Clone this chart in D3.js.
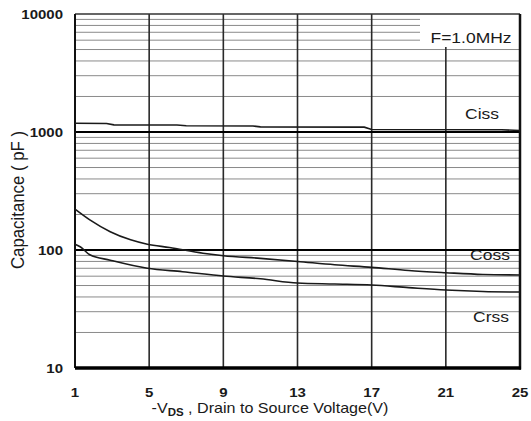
<!DOCTYPE html>
<html>
<head>
<meta charset="utf-8">
<script src="https://d3js.org/d3.v7.min.js"></script>
<style>
  body { margin: 0; background: #fff; }
  text { font-family: Arial, "Liberation Sans", sans-serif; fill: #1a1a1a; }
</style>
</head>
<body>
<svg id="chart" width="531" height="421"></svg>
<script>
// values
const xTicks = [1, 5, 9, 13, 17, 21, 25];
const yTicks = [10, 100, 1000, 10000];

const cissV = [1, 2.7, 3.1, 6.5, 7, 10.6, 11, 16.6, 17, 24, 25];
const ciss  = [1185, 1180, 1150, 1145, 1130, 1125, 1105, 1100, 1050, 1045, 1030];

const cossV = [1, 1.8, 2.9, 4, 4.9, 6.1, 7.9, 9, 11, 13, 15, 17, 19, 21, 23, 25];
const coss  = [222, 180, 143, 122, 112, 105, 94, 89.5, 85, 80, 75, 71.3, 67, 64.2, 62, 61.4];

const crssV = [1, 1.3, 1.8, 2.9, 4.9, 6.8, 9, 11, 13, 15, 17, 19, 21, 23, 25];
const crss  = [112, 106, 91, 82, 70, 65.5, 60.2, 57, 52.5, 51.5, 50.5, 48, 45.8, 44.5, 44];

const seriesNames = ["Ciss", "Coss", "Crss"];

const svg = d3.select("#chart");
const pLeft = 75, pRight = 520, pTop = 14, pBottom = 368;

const x = d3.scaleLinear().domain([1, 25]).range([pLeft, pRight]);
const y = d3.scaleLog().domain([10, 10000]).range([pBottom, pTop]);

// minor horizontal grid (2..9 of each decade)
const minor = [];
[10, 100, 1000].forEach(d => { for (let k = 2; k <= 9; k++) minor.push(d * k); });

svg.append("g").selectAll("line").data(minor).enter().append("line")
  .attr("x1", pLeft).attr("x2", d => d > 5000 ? 420 : pRight)
  .attr("y1", d => y(d)).attr("y2", d => y(d))
  .attr("stroke", "#8a8a8a").attr("stroke-width", 1);

// vertical grid
svg.append("g").selectAll("line").data(xTicks.slice(1, -1)).enter().append("line")
  .attr("x1", d => x(d)).attr("x2", d => x(d))
  .attr("y1", d => d == 21 ? 47 : pTop).attr("y2", pBottom)
  .attr("stroke", "#2a2a2a").attr("stroke-width", 1.6);

// decade lines
svg.append("g").selectAll("line").data([100, 1000]).enter().append("line")
  .attr("x1", pLeft).attr("x2", pRight)
  .attr("y1", d => y(d)).attr("y2", d => y(d))
  .attr("stroke", "#000").attr("stroke-width", 2);

// frame
svg.append("line").attr("x1", pLeft).attr("x2", pRight).attr("y1", pTop).attr("y2", pTop)
  .attr("stroke", "#333").attr("stroke-width", 1.5);
svg.append("line").attr("x1", pLeft).attr("x2", pLeft).attr("y1", pTop).attr("y2", pBottom)
  .attr("stroke", "#111").attr("stroke-width", 2);
svg.append("line").attr("x1", pRight).attr("x2", pRight).attr("y1", pTop).attr("y2", pBottom + 1.5)
  .attr("stroke", "#111").attr("stroke-width", 2.5);
svg.append("line").attr("x1", pLeft).attr("x2", pRight + 1).attr("y1", pBottom).attr("y2", pBottom)
  .attr("stroke", "#000").attr("stroke-width", 3.5);

// curves
const line = d3.line().x(d => x(d[0])).y(d => y(d[1]));
const curves = [d3.zip(cissV, ciss), d3.zip(cossV, coss), d3.zip(crssV, crss)];
svg.append("g").selectAll("path").data(curves).enter().append("path")
  .attr("d", (d, i) => i == 0 ? line.curve(d3.curveLinear)(d) : line.curve(d3.curveMonotoneX)(d))
  .attr("fill", "none").attr("stroke", "#1a1a1a").attr("stroke-width", 1.6);

// tick labels (picture is stretched sideways a bit)
svg.append("g").selectAll("g").data(yTicks).enter().append("g")
  .attr("transform", d => `translate(63,${y(d) + 4.5}) scale(1.25,1)`)
  .append("text").attr("text-anchor", "end")
  .style("font-size", "12px").style("font-weight", "bold").text(d => d);

svg.append("g").selectAll("g").data(xTicks).enter().append("g")
  .attr("transform", d => `translate(${x(d)},397) scale(1.25,1)`)
  .append("text").attr("text-anchor", "middle")
  .style("font-size", "12px").style("font-weight", "bold").text(d => d);

// series labels
const labelPos = [[482, 119], [490, 260], [491, 322]];
svg.append("g").selectAll("g").data(seriesNames).enter().append("g")
  .attr("transform", (d, i) => `translate(${labelPos[i][0]},${labelPos[i][1]}) scale(1.25,1)`)
  .append("text").attr("text-anchor", "middle").style("font-size", "14px").text(d => d);

// frequency note
svg.append("rect").attr("x", 421).attr("y", 15).attr("width", 97).attr("height", 31).attr("fill", "#fff");
svg.append("g").attr("transform", "translate(471,43) scale(1.25,1)")
  .append("text").attr("text-anchor", "middle").style("font-size", "14px").text("F=1.0MHz");

// axis titles
svg.append("g").attr("transform", "translate(24,200) rotate(-90) scale(1.05,1.2)")
  .append("text").attr("text-anchor", "middle").style("font-size", "16px")
  .attr("fill", "#333").text("Capacitance ( pF )");

const xt = svg.append("g").attr("transform", "translate(270,413) scale(1.15,1)")
  .append("text").attr("text-anchor", "middle").style("font-size", "14px");
xt.append("tspan").text("-V");
xt.append("tspan").attr("dy", 3).style("font-size", "10px").style("font-weight", "bold").text("DS");
xt.append("tspan").attr("dy", -3).text(" , Drain to Source Voltage(V)");
</script>
</body>
</html>
